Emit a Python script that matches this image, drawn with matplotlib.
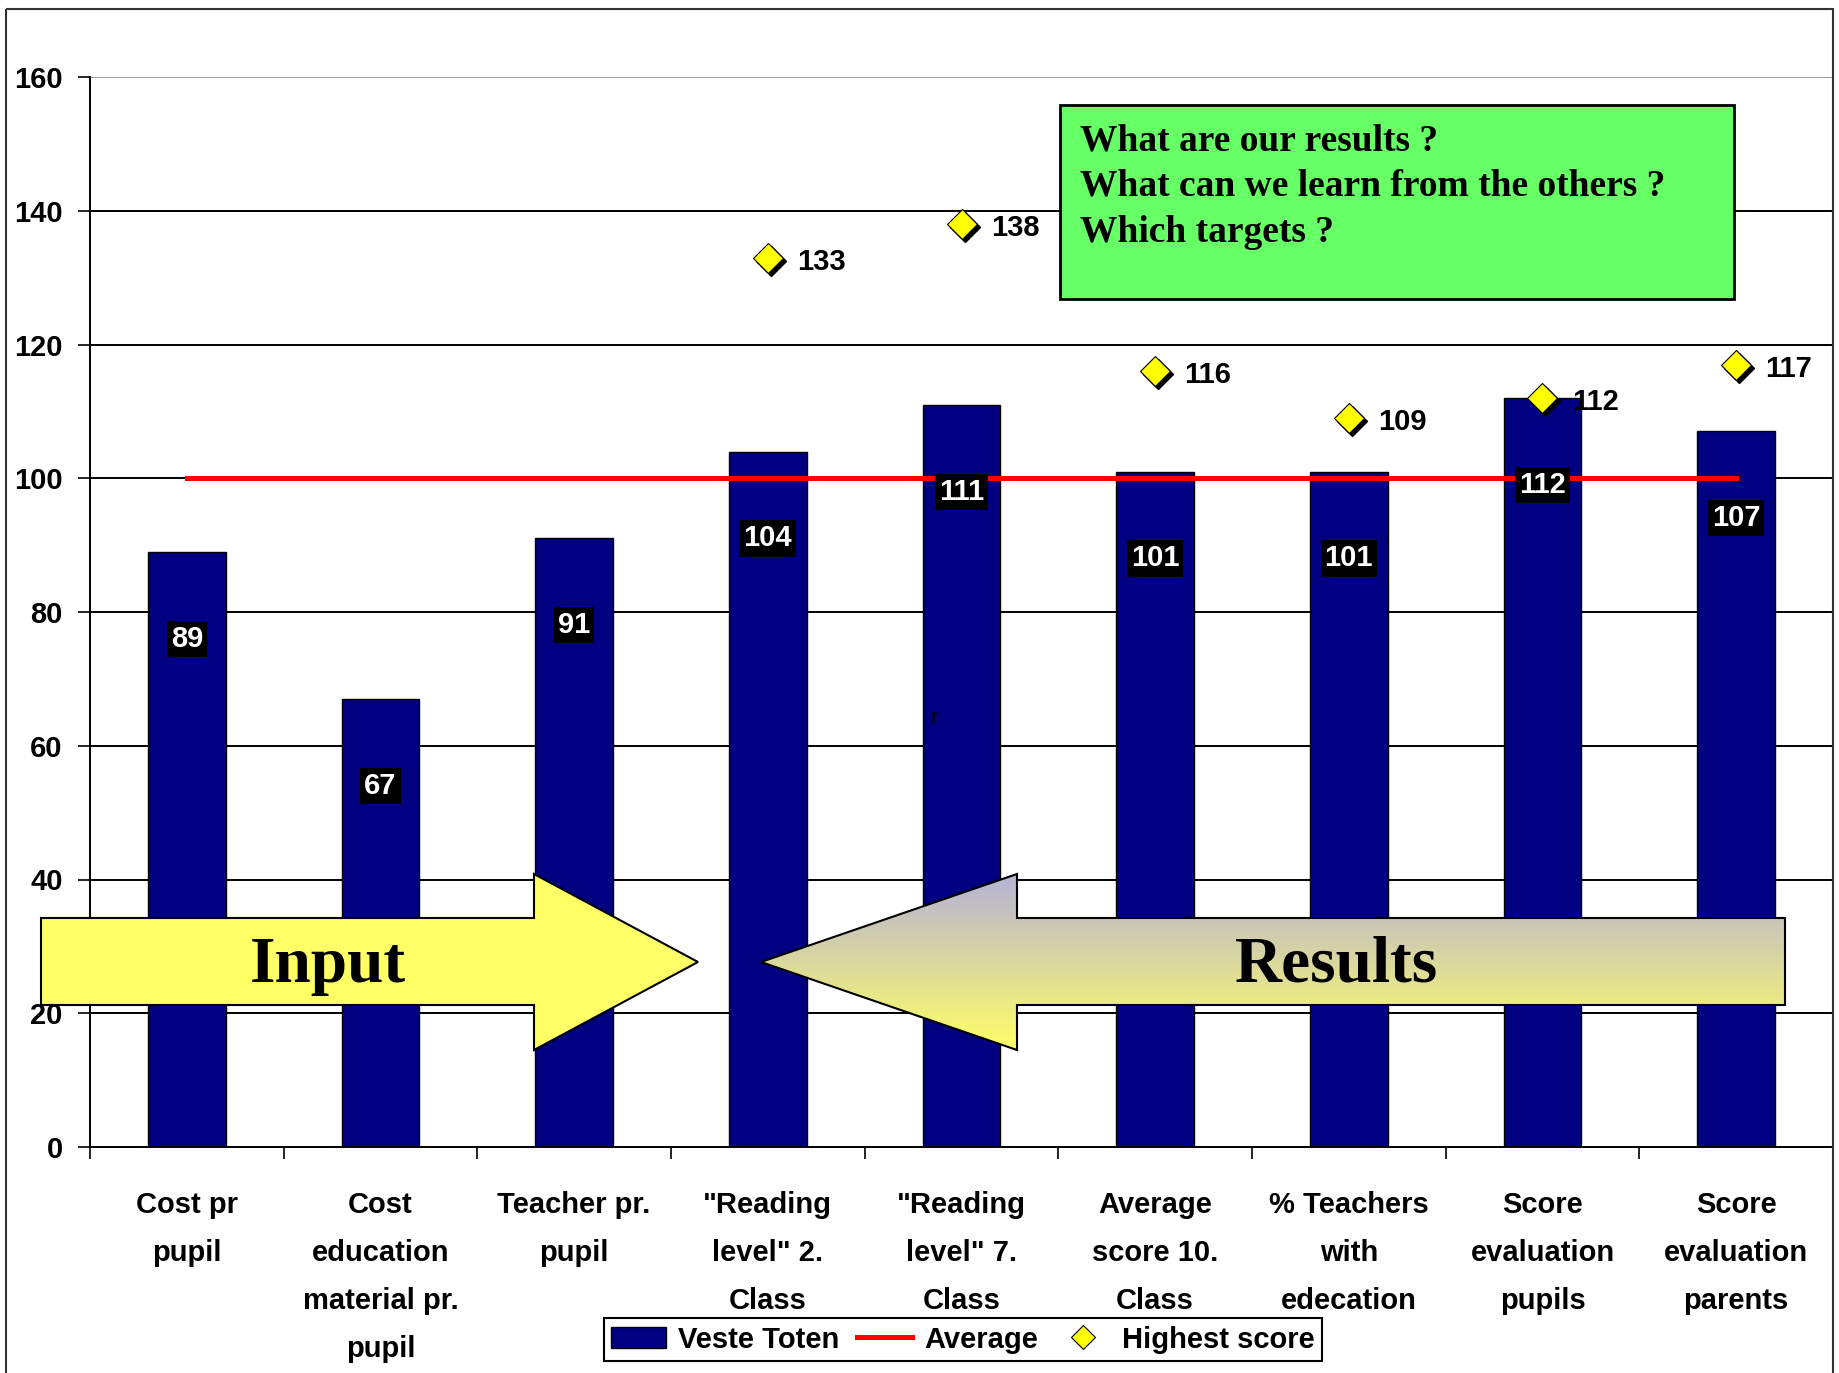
import numpy as np
import matplotlib
matplotlib.use("Agg")
import matplotlib.pyplot as plt
import matplotlib.transforms as mtransforms
from matplotlib.patches import Polygon, Rectangle, Patch
from matplotlib.lines import Line2D

plt.rcParams['font.family'] = ['Liberation Sans', 'DejaVu Sans']
plt.rcParams['font.weight'] = 'bold'

# data
categories = ['Cost pr\npupil', 'Cost\neducation\nmaterial pr.\npupil', 'Teacher pr.\npupil',
              '"Reading\nlevel" 2.\nClass', '"Reading\nlevel" 7.\nClass', 'Average\nscore 10.\nClass',
              '% Teachers\nwith\nedecation', 'Score\nevaluation\npupils', 'Score\nevaluation\nparents']
veste_toten = [89, 67, 91, 104, 111, 101, 101, 112, 107]
average = [100, 100, 100, 100, 100, 100, 100, 100, 100]
highest_cats = [3, 4, 5, 6, 7, 8]
highest_score = [133, 138, 116, 109, 112, 117]
yticks = [0, 20, 40, 60, 80, 100, 120, 140, 160]
questions = ['What are our results ?', 'What can we learn from the others ?', 'Which targets ?']

W, H = 1839, 1373
fig = plt.figure(figsize=(W / 100, H / 100), dpi=100)
ax = fig.add_axes([90 / W, 1 - 1147 / H, (1833 - 90) / W, (1147 - 77) / H])

x = np.arange(len(categories))
for t in yticks[1:-1]:
    ax.axhline(t, color='black', lw=1.4, zorder=0)
ax.axhline(yticks[-1], color='#999999', lw=1.4, zorder=0)

ax.bar(x, veste_toten, width=0.4, color='#000080', edgecolor='black', lw=1, zorder=2)
ax.plot(x, average, color='red', lw=3.6, zorder=3)

shadow = mtransforms.offset_copy(ax.transData, fig=fig, x=3, y=-3, units='dots')
ax.plot(highest_cats, highest_score, 'D', ms=15, color='black', transform=shadow, zorder=4)
ax.plot(highest_cats, highest_score, 'D', ms=15, mfc='#FFFF00', mec='black', mew=0.8, zorder=5)

for i, v in enumerate(veste_toten):
    ax.text(i, v - 13, str(v), color='white', ha='center', va='center', fontsize=21,
            bbox=dict(facecolor='black', edgecolor='none', pad=3), zorder=6)
for i, h in zip(highest_cats, highest_score):
    ax.annotate(str(h), (i, h), xytext=(21, -3), textcoords='offset points',
                ha='left', va='center', fontsize=21, zorder=6)
ax.text(3.86, 64, 'r', fontsize=16, weight='normal', color='black', ha='center', va='center', zorder=6)

ax.set_xlim(-0.5, 8.5)
ax.set_ylim(0, 160)
ax.set_yticks(yticks)
ax.set_xticks(x)
ax.set_xticklabels(categories, linespacing=1.9)
ax.set_xticks(np.arange(-0.5, 9, 1), minor=True)
ax.tick_params(axis='y', direction='out', length=8.6, width=1.2, labelsize=21, pad=11)
ax.tick_params(axis='x', which='major', length=0, labelsize=21, pad=32)
ax.tick_params(axis='x', which='minor', direction='out', length=8.6, width=1.2)
for s in ['top', 'right']:
    ax.spines[s].set_visible(False)
for s in ['left', 'bottom']:
    ax.spines[s].set_linewidth(1.4)

# overlay for the shapes drawn on top of the chart
ov = fig.add_axes([0, 0, 1, 1], zorder=3)
ov.axis('off')

ov.add_patch(Rectangle((6, 9), 1833 - 6, H, fill=False, ec='#333333', lw=1.5))

ov.add_patch(Rectangle((1060, 105), 674, 194, fc='#66FF66', ec='black', lw=2))
for k, q in enumerate(questions):
    ov.text(1080, 141 + 45.5 * k, q, family=['Liberation Serif', 'DejaVu Serif'], fontsize=27,
            ha='left', va='center')

inp = Polygon([(41, 918), (534, 918), (534, 874), (698, 962), (534, 1050), (534, 1005), (41, 1005)],
              closed=True, fc='#FFFF66', ec='black', lw=1.5)
ov.add_patch(inp)
res_pts = [(1785, 918), (1017, 918), (1017, 874), (761, 962), (1017, 1050), (1017, 1005), (1785, 1005)]
res_clip = Polygon(res_pts, closed=True, fc='none', ec='none')
ov.add_patch(res_clip)
top_c = np.array([181, 178, 214]) / 255
bot_c = np.array([255, 255, 102]) / 255
f = np.linspace(0, 1, 256)[:, None]
grad = (top_c[None, :] * (1 - f) + bot_c[None, :] * f)[:, None, :]
im = ov.imshow(grad, extent=[761, 1785, 1050, 874], origin='upper', aspect='auto', zorder=1)
im.set_clip_path(res_clip)
ov.add_patch(Polygon(res_pts, closed=True, fill=False, ec='black', lw=1.5, zorder=2))

serif = ['Liberation Serif', 'DejaVu Serif']
ov.text(328, 966, 'Input', family=serif, fontsize=47, ha='center', va='center', zorder=3)
ov.text(1337, 966, 'Results', family=serif, fontsize=47, ha='center', va='center', zorder=3)

ov.set_xlim(0, W)
ov.set_ylim(H, 0)

handles = [Patch(fc='#000080', ec='black'),
           Line2D([], [], color='red', lw=3.6),
           Line2D([], [], ls='none', marker='D', ms=12, mfc='#FFFF00', mec='black', mew=0.8)]
leg = fig.legend(handles, ['Veste Toten', 'Average', 'Highest score'], loc='center',
                 bbox_to_anchor=(0.5237, 1 - 1339.5 / H), ncol=3, fancybox=False,
                 edgecolor='black', framealpha=1, prop={'weight': 'bold', 'size': 21},
                 handlelength=1.9, handletextpad=0.4, columnspacing=0.6, borderpad=0.25)
leg.get_frame().set_linewidth(1.5)
leg.set_zorder(10)

fig.savefig('out.png', dpi=100)
